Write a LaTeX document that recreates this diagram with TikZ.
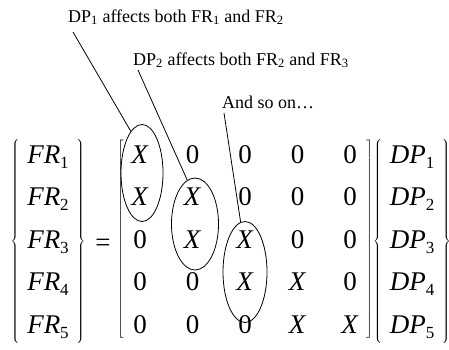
\documentclass[tikz,border=0pt]{standalone}
\usepackage{fontspec}
\setmainfont{Liberation Serif}
\usetikzlibrary{shapes, matrix, calc}

\newcommand{\lowsub}[1]{\raisebox{-0.42ex}{\fontsize{17}{17}\selectfont #1}}
\newcommand{\FR}[1]{\textit{FR}\lowsub{#1}}
\newcommand{\DP}[1]{\textit{DP}\lowsub{#1}}
\newcommand{\xx}{\textit{X}}

\begin{document}
\begin{tikzpicture}[x=1pt, y=-1pt]

\tikzstyle{note} = [font=\fontsize{18}{20}\selectfont, anchor=base west, inner sep=0pt]
\tikzstyle{entries} = [matrix of nodes, nodes={font=\fontsize{27}{30}\selectfont, inner sep=3pt}, row sep={42.5pt,between origins}, column sep={52.5pt,between origins}]
\tikzstyle{oval} = [draw, shape=ellipse, line width=0.8pt, inner sep=0pt]
\tikzstyle{pointer} = [line width=0.8pt]

\useasboundingbox (0,0) rectangle (449,349);

\node[note] at (68,22) (n1) {DP\textsubscript{1} affects both FR\textsubscript{1} and FR\textsubscript{2}};
\node[note] at (133,65) (n2) {DP\textsubscript{2} affects both FR\textsubscript{2} and FR\textsubscript{3}};
\node[note] at (222,108) (n3) {And so on\dots};

\matrix (F) [entries, left delimiter=\{, right delimiter=\}, matrix anchor=F-1-1.base] at (48,163) {
  \FR{1} \\ \FR{2} \\ \FR{3} \\ \FR{4} \\ \FR{5} \\
};
\node[font=\fontsize{27}{30}\selectfont] at (103,245) (eq) {=};
\matrix (M) [entries, left delimiter={[}, right delimiter={]}, matrix anchor=M-1-1.base] at (140,163) {
  \xx & 0 & 0 & 0 & 0 \\
  \xx & \xx & 0 & 0 & 0 \\
  0 & \xx & \xx & 0 & 0 \\
  0 & 0 & \xx & \xx & 0 \\
  0 & 0 & 0 & \xx & \xx \\
};
\matrix (D) [entries, left delimiter=\{, right delimiter=\}, matrix anchor=D-1-1.base] at (412,163) {
  \DP{1} \\ \DP{2} \\ \DP{3} \\ \DP{4} \\ \DP{5} \\
};

\node[oval, minimum width=42pt, minimum height=97pt] at (142,173) (e1) {};
\node[oval, minimum width=47pt, minimum height=92pt] at (195,224) (e2) {};
\node[oval, minimum width=44pt, minimum height=101pt] at (245,272) (e3) {};

\begin{scope}[pointer]
     \draw ($(n1.base west)+(5,10)$) -- (e1.105);
     \draw ($(n2.base west)+(5,5)$) -- (e2.100);
     \draw ($(n3.base west)+(2,5)$) -- (e3.95);
\end{scope}
\end{tikzpicture}
\end{document}
